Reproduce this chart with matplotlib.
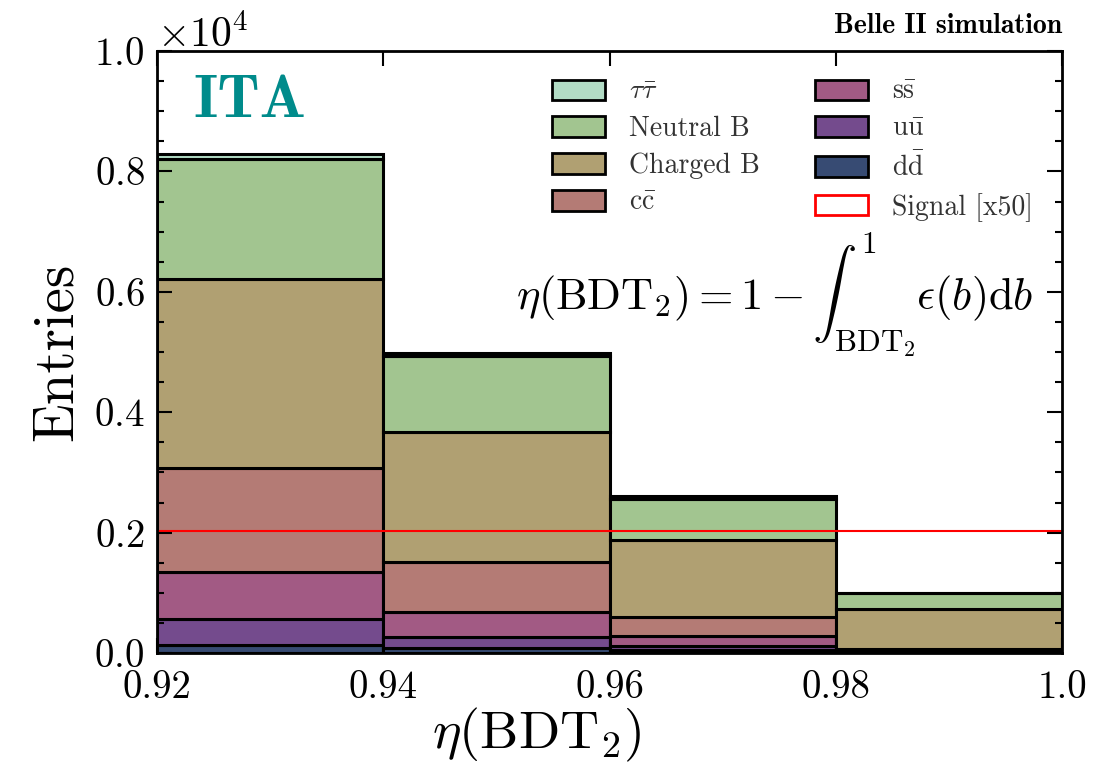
import numpy as np
import matplotlib
matplotlib.use("Agg")
import matplotlib.pyplot as plt
from matplotlib.ticker import ScalarFormatter, MultipleLocator
from matplotlib.patches import Patch

plt.rcParams['font.family'] = ['cmr10', 'DejaVu Serif']
plt.rcParams['mathtext.fontset'] = 'cm'
plt.rcParams['axes.formatter.use_mathtext'] = True

# bin edges in eta(BDT2)
edges = [0.92, 0.94, 0.96, 0.98, 1.00]

# stacked backgrounds, bottom to top (entries per bin)
dd = [130, 83, 50, 8]
uu = [435, 183, 66, 7]
ss = [781, 415, 166, 15]
cc = [1727, 831, 316, 30]
charged_b = [3140, 2159, 1279, 671]
neutral_b = [1993, 1263, 681, 259]
tautau = [83, 49, 50, 10]
signal_x50 = [2027, 2027, 2027, 2027]

colors = {
    'tautau': '#b2dcc5',
    'neutral': '#a2c590',
    'charged': '#b0a072',
    'cc': '#b47b75',
    'ss': '#a25a84',
    'uu': '#744b8d',
    'dd': '#374b73',
}

fig = plt.figure(figsize=(11.08, 7.62), dpi=100)
ax = fig.add_axes([0.1417, 0.143, 0.8168, 0.790])

left = np.array(edges[:-1])
width = np.diff(edges)
bottom = np.zeros(len(left))
stack = [
    (dd, colors['dd']),
    (uu, colors['uu']),
    (ss, colors['ss']),
    (cc, colors['cc']),
    (charged_b, colors['charged']),
    (neutral_b, colors['neutral']),
    (tautau, colors['tautau']),
]
for vals, col in stack:
    ax.bar(left, vals, width=width, bottom=bottom, align='edge',
           color=col, edgecolor='black', linewidth=2.2)
    bottom = bottom + np.array(vals)

ax.stairs(signal_x50, edges, color='red', linewidth=1.5, baseline=None)

ax.set_xlim(0.92, 1.0)
ax.set_ylim(0, 10000)
ax.set_xticks(edges)
ax.set_xticklabels(['0.92', '0.94', '0.96', '0.98', '1.0'])
fmt = ScalarFormatter(useMathText=True)
fmt.set_powerlimits((0, 0))
ax.yaxis.set_major_formatter(fmt)
ax.yaxis.set_major_locator(MultipleLocator(2000))
ax.yaxis.set_minor_locator(MultipleLocator(500))
ax.yaxis.get_offset_text().set_fontsize(30)
ax.tick_params(axis='both', which='both', direction='in', top=True, right=True,
               labelsize=28, width=1.5)
ax.tick_params(which='major', length=11, pad=9)
ax.tick_params(axis='x', which='major', pad=12)
ax.tick_params(which='minor', length=5)
for s in ax.spines.values():
    s.set_linewidth(2)

ax.set_ylabel('Entries', fontsize=41, labelpad=8)
ax.set_xlabel(r'$\eta(\mathrm{BDT}_2)$', fontsize=39, labelpad=0)
ax.xaxis.set_label_coords(0.42, -0.087)

ax.text(0.04, 0.915, 'ITA', transform=ax.transAxes, fontsize=44,
        color='#008b8b', family='cmb10', fontweight='bold', va='center')
ax.text(1.0, 1.02, 'Belle II simulation', transform=ax.transAxes,
        fontsize=20, family='cmb10', ha='right', va='bottom')
ax.text(0.968, 0.595,
        r'$\eta(\mathrm{BDT}_2) = 1 - \int_{\mathrm{BDT}_2}^{1}\epsilon(b)\mathrm{d}b$',
        transform=ax.transAxes, fontsize=32, ha='right', va='center')

handles = [
    Patch(facecolor=colors['tautau'], edgecolor='black', linewidth=2, label=r'$\mathrm{\tau\bar{\tau}}$'),
    Patch(facecolor=colors['neutral'], edgecolor='black', linewidth=2, label='Neutral B'),
    Patch(facecolor=colors['charged'], edgecolor='black', linewidth=2, label='Charged B'),
    Patch(facecolor=colors['cc'], edgecolor='black', linewidth=2, label=r'$\mathrm{c\bar{c}}$'),
    Patch(facecolor=colors['ss'], edgecolor='black', linewidth=2, label=r'$\mathrm{s\bar{s}}$'),
    Patch(facecolor=colors['uu'], edgecolor='black', linewidth=2, label=r'$\mathrm{u\bar{u}}$'),
    Patch(facecolor=colors['dd'], edgecolor='black', linewidth=2, label=r'$\mathrm{d\bar{d}}$'),
    Patch(facecolor='white', edgecolor='red', linewidth=2, label='Signal [x50]'),
]
leg = ax.legend(handles=handles, ncol=2, frameon=False, fontsize=20,
                loc='upper right', bbox_to_anchor=(0.995, 0.995),
                handlelength=1.9, handleheight=0.75, handletextpad=0.85,
                columnspacing=2.0, labelspacing=0.38)
for t in leg.get_texts():
    t.set_color('#333333')

fig.savefig('out.png', dpi=100)
